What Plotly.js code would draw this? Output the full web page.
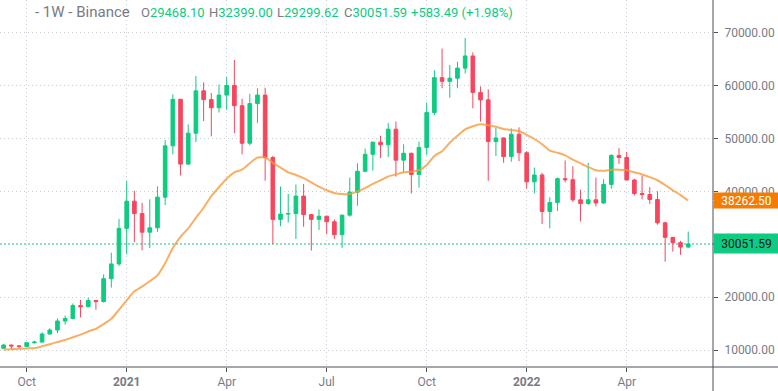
<!DOCTYPE html>
<html>
<head>
<meta charset="utf-8">
<script src="https://cdn.plot.ly/plotly-3.0.1.min.js"></script>
<style>html,body{margin:0;padding:0;background:#fff;}#chart{width:778px;height:391px;}</style>
</head>
<body>
<div id="chart"></div>
<script>
// Weekly candles (Monday open dates)
const weeks = [
 '2020-09-14','2020-09-21','2020-09-28','2020-10-05','2020-10-12','2020-10-19','2020-10-26','2020-11-02','2020-11-09','2020-11-16','2020-11-23','2020-11-30','2020-12-07','2020-12-14','2020-12-21','2020-12-28',
 '2021-01-04','2021-01-11','2021-01-18','2021-01-25','2021-02-01','2021-02-08','2021-02-15','2021-02-22','2021-03-01','2021-03-08','2021-03-15','2021-03-22','2021-03-29','2021-04-05','2021-04-12','2021-04-19','2021-04-26','2021-05-03','2021-05-10','2021-05-17','2021-05-24','2021-05-31','2021-06-07','2021-06-14','2021-06-21','2021-06-28','2021-07-05','2021-07-12','2021-07-19','2021-07-26','2021-08-02','2021-08-09','2021-08-16','2021-08-23','2021-08-30','2021-09-06','2021-09-13','2021-09-20','2021-09-27','2021-10-04','2021-10-11','2021-10-18','2021-10-25','2021-11-01','2021-11-08','2021-11-15','2021-11-22','2021-11-29','2021-12-06','2021-12-13','2021-12-20','2021-12-27',
 '2022-01-03','2022-01-10','2022-01-17','2022-01-24','2022-01-31','2022-02-07','2022-02-14','2022-02-21','2022-02-28','2022-03-07','2022-03-14','2022-03-21','2022-03-28','2022-04-04','2022-04-11','2022-04-18','2022-04-25','2022-05-02','2022-05-09','2022-05-16','2022-05-23','2022-05-30'
];
const opens = [
 10328,10938,10774,10670,11384,11500,13030,13780,15480,15960,18400,18180,19360,19150,23480,26280,
 33000,38150,35800,32280,33100,38900,48600,57400,45150,51000,59000,57350,55800,58200,60000,56200,49100,56600,58200,46400,34700,35700,35800,39100,35600,34700,35300,34250,31800,35500,39850,43800,47000,49300,48800,51750,45900,47200,43200,48300,54900,61500,60800,61400,63300,65600,58700,57300,49400,50100,46600,50800,
 47300,41800,43100,36200,37900,42400,42200,38400,37700,38400,37800,41300,46800,46400,42150,39600,39400,38450,34050,31300,30300,29468.10
];
const highs = [
 11179,10990,10950,11492,11720,13350,14100,15970,16500,18800,19500,19900,19420,24300,28400,34800,
 41950,40100,37850,38500,40950,49700,58350,57500,52650,61800,60600,58600,60200,61600,64850,57500,58450,59500,59600,46700,40900,39500,41300,41400,35750,36600,35400,34700,35600,42600,45300,48100,49400,50500,52900,53200,48900,47300,49400,56800,62900,67000,63900,64500,69000,66300,59800,59300,52000,50200,51900,52100,
 47600,44500,43500,38900,42600,45850,44750,40300,45400,42600,42300,47000,48200,47450,42400,42950,40800,40000,34250,31350,30650,32399.00
];
const lows = [
 10200,10136,10375,10530,11200,11400,12900,13200,14800,15800,16200,18100,17600,19000,21800,25900,
 28100,30400,28850,29250,32300,37400,47000,43000,45000,49300,53300,50400,54900,55400,51000,47000,48700,52900,42000,30000,33400,34100,31000,33300,28800,32700,31900,31000,29300,35200,37300,43600,43900,46300,46500,42800,43600,39600,40700,46900,54400,59500,57700,59500,62300,55700,53200,42000,46700,45400,45600,45700,
 40500,39600,33800,33000,36300,41700,38000,34300,37450,37150,37600,40500,45200,42100,39200,38500,37600,33700,26700,28600,28000,29299.62
];
const closes = [
 10938,10774,10670,11384,11500,13030,13780,15480,15960,18400,18180,19360,19150,23480,26280,33000,
 38150,35800,32280,33100,38900,48600,57400,45150,51000,59000,57350,55800,58200,60000,56200,49100,56600,58200,46400,34700,35700,35800,39100,35600,34700,35300,34250,31800,35500,39850,43800,47000,49300,48800,51750,45900,47200,43200,48300,54900,61500,60800,61400,63300,65600,58700,57300,49400,50100,46600,50800,47300,
 41800,43100,36200,37900,42400,42200,38400,37700,38400,37800,41300,46800,46400,42150,39600,39400,38450,34050,31300,30300,29468.10,30051.59
];
// Moving average
const maValues = [
 10100,10150,10250,10300,10350,10700,11100,11500,11900,12400,12900,13500,14000,14900,15900,17600,
 19400,21100,22000,23000,24100,26400,29300,31400,33000,35000,36900,39100,40800,42400,43600,44100,45300,46400,46400,45400,44500,43600,43100,42500,41700,40900,40200,39700,39500,39500,40000,40600,41400,42100,42800,43200,43600,43700,44000,45000,46700,47600,49200,50500,51700,52300,52700,52500,52200,51800,51600,51400,
 50700,49900,48900,47700,47300,46800,46000,45300,44600,44000,43900,44100,44100,44000,43600,43200,42700,42100,41200,40200,39300,38262.50
];
const xTickVals = ['2020-10-05','2021-01-04','2021-04-05','2021-07-05','2021-10-04','2022-01-03','2022-04-04'];
const xTickText = ['Oct','<b>2021</b>','Apr','Jul','Oct','<b>2022</b>','Apr'];
const yTickVals = [10000,20000,40000,50000,60000,70000];
const yTickText = ['10000.00','20000.00','40000.00','50000.00','60000.00','70000.00'];
const lastClose = 30051.59, lastMA = 38262.50;
const header = {
  name: '- 1W - Binance',
  o: '29468.10', h: '32399.00', l: '29299.62', c: '30051.59', chg: '+583.49 (+1.98%)'
};

const GREEN = '#0ecb81', RED = '#f6465d', ORANGE = '#f57c00', GRAY = '#787b86', AXIS = '#4c4f59';
const YR = [6785, 76184];
const PW = 713, PH = 367;
const yp = v => (v - YR[0]) / (YR[1] - YR[0]);

const candles = {
  type: 'candlestick', x: weeks, open: opens, high: highs, low: lows, close: closes,
  increasing: {line: {color: GREEN, width: 1}, fillcolor: GREEN},
  decreasing: {line: {color: RED, width: 1}, fillcolor: RED},
  whiskerwidth: 0, hoverinfo: 'skip', showlegend: false
};
const ma = {
  type: 'scatter', mode: 'lines', x: weeks, y: maValues,
  line: {color: 'rgba(247,155,60,0.8)', width: 2, shape: 'spline', smoothing: 0.6},
  hoverinfo: 'skip', showlegend: false
};

const hy = 1 - 12 / PH;
function hdr(px, html, size) {
  return {xref: 'paper', yref: 'paper', x: px / PW, y: hy, xanchor: 'left', yanchor: 'middle',
    text: html, showarrow: false, font: {family: 'Roboto, sans-serif', size: size || 13, color: GRAY}};
}
const g = s => '<span style="color:' + GREEN + '">' + s + '</span>';

const layout = {
  width: 778, height: 391,
  margin: {l: 0, r: 65, t: 0, b: 24, pad: 0},
  paper_bgcolor: '#ffffff', plot_bgcolor: '#ffffff',
  showlegend: false, boxgap: 0.32,
  font: {family: 'Roboto, sans-serif', size: 12, color: GRAY},
  xaxis: {
    type: 'date', range: ['2020-09-10 17:00', '2022-06-21 13:00'],
    rangeslider: {visible: false}, fixedrange: true,
    tickmode: 'array', tickvals: xTickVals, ticktext: xTickText,
    ticks: 'outside', ticklen: 4, tickcolor: AXIS, tickwidth: 1,
    showline: false, showgrid: true, gridcolor: '#c9ccd3', griddash: '1px,3px', gridwidth: 1,
    zeroline: false, tickfont: {size: 12, color: GRAY}
  },
  yaxis: {
    side: 'right', range: YR, fixedrange: true,
    tickmode: 'array', tickvals: yTickVals, ticktext: yTickText,
    ticks: 'outside', ticklen: 4, tickcolor: AXIS, tickwidth: 1, ticklabelstandoff: 4,
    showline: false, showgrid: true, gridcolor: '#c9ccd3', griddash: '1px,3px', gridwidth: 1,
    zeroline: false, tickfont: {size: 12, color: GRAY}
  },
  shapes: [
    {type: 'line', xref: 'paper', yref: 'y', x0: 0, x1: 1, y0: lastClose, y1: lastClose,
     line: {color: GREEN, width: 1, dash: '2px,2px'}, layer: 'below'},
    {type: 'line', xref: 'paper', yref: 'paper', x0: 0, x1: 778 / PW, y0: 0, y1: 0,
     line: {color: AXIS, width: 1}},
    {type: 'line', xref: 'paper', yref: 'paper', x0: 1, x1: 1, y0: -24 / PH, y1: 1,
     line: {color: AXIS, width: 1}}
  ],
  annotations: [
    hdr(33, header.name, 15),
    hdr(139, 'O' + g(header.o)),
    hdr(207, 'H' + g(header.h)),
    hdr(275, 'L' + g(header.l)),
    hdr(342, 'C' + g(header.c)),
    hdr(409, g(header.chg)),
    {xref: 'paper', yref: 'y', x: 1, y: lastMA, xanchor: 'left', yanchor: 'middle',
     text: lastMA.toFixed(2), showarrow: false, bgcolor: ORANGE, width: 63, height: 13, borderpad: 1,
     align: 'center', font: {family: 'Roboto, sans-serif', size: 12, color: '#ffffff'}},
    {xref: 'paper', yref: 'y', x: 1, y: lastClose, xanchor: 'left', yanchor: 'middle',
     text: lastClose.toFixed(2), showarrow: false, bgcolor: GREEN, width: 63, height: 17, borderpad: 1,
     align: 'center', font: {family: 'Roboto, sans-serif', size: 12, color: '#131722'}}
  ]
};
layout.shapes.push(
  {type: 'line', xref: 'paper', yref: 'paper', x0: 1, x1: 1 + 4 / PW, y0: yp(lastMA), y1: yp(lastMA), line: {color: '#ffffff', width: 1}},
  {type: 'line', xref: 'paper', yref: 'paper', x0: 1, x1: 1 + 4 / PW, y0: yp(lastClose), y1: yp(lastClose), line: {color: '#131722', width: 1}}
);

Plotly.newPlot('chart', [ma, candles], layout, {displayModeBar: false, staticPlot: true});
</script>
</body>
</html>
